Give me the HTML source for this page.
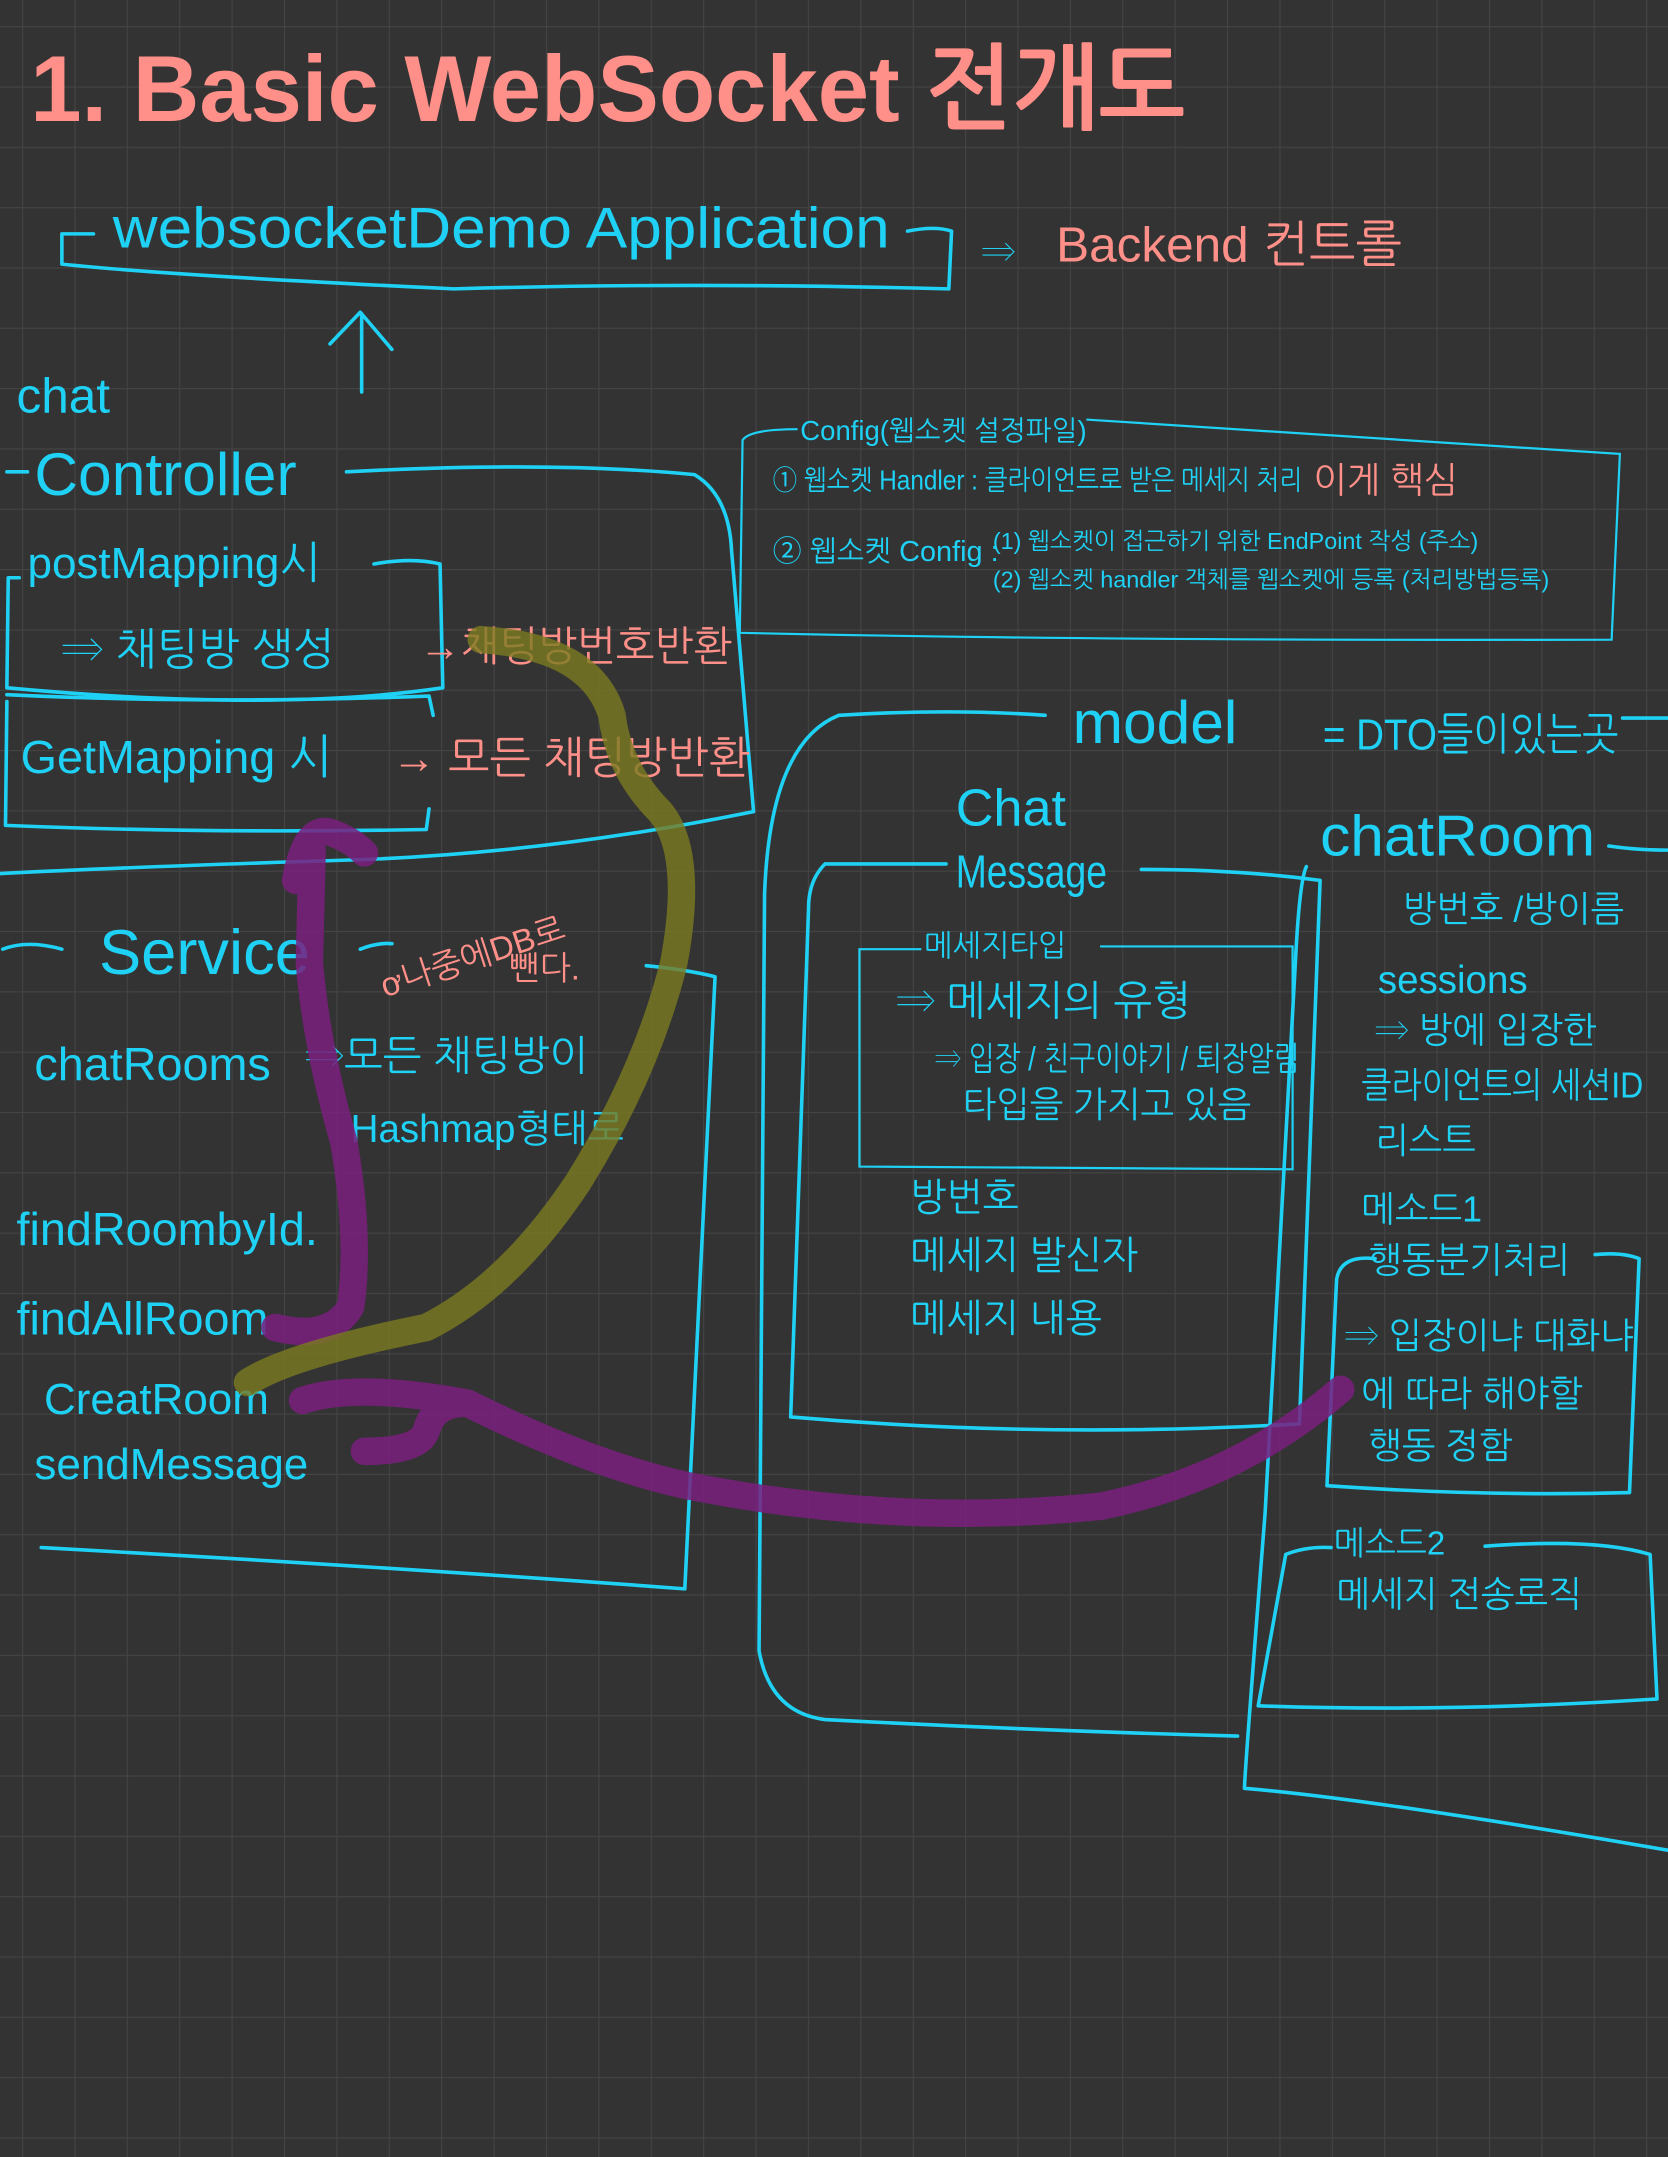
<!DOCTYPE html>
<html><head><meta charset="utf-8"><style>
html,body{margin:0;padding:0;background:#333333;}
svg{display:block}
text{font-family:"Liberation Sans","NanumGothic","Noto Sans CJK KR",sans-serif;}
.c{fill:#1fd2f5}.p{fill:#ff9089}
.l{fill:none;stroke:#1fd2f5;stroke-width:2.6;stroke-linecap:round;stroke-linejoin:round}
.t{fill:none;stroke:#1fd2f5;stroke-width:1.6}
</style></head><body>
<svg width="1668" height="2157" viewBox="0 0 1213 1568" preserveAspectRatio="none" xmlns="http://www.w3.org/2000/svg">
<defs>
<pattern id="g" x="16" y="19" width="38.1" height="43.85" patternUnits="userSpaceOnUse">
<path d="M0 0V43.85M0 0H38.1" stroke="#444444" stroke-width="1.6" fill="none"/>
</pattern>
</defs>
<rect width="1213" height="1568" fill="#333333"/>
<rect width="1213" height="1568" fill="url(#g)"/>

<!-- title -->
<text x="22" y="88" class="p" font-size="68" font-weight="bold" textLength="840" lengthAdjust="spacingAndGlyphs">1. Basic WebSocket 전개도</text>

<!-- app -->
<path class="l" d="M68 170H45V192Q120 200 330 210Q500 205 690 210L692 168Q680 164 660 168"/>
<text x="82" y="180" class="c" font-size="42" textLength="565" lengthAdjust="spacingAndGlyphs">websocketDemo Application</text>
<text x="714" y="192" class="c" font-size="26">⇒</text>
<text x="768" y="190" class="p" font-size="36">Backend 컨트롤</text>
<path class="l" d="M263 285V228M240 250L262 227L285 254"/>

<!-- controller -->
<text x="12" y="300" class="c" font-size="36">chat</text>
<text x="25" y="360" class="c" font-size="44">Controller</text>
<path class="l" d="M5 343H20M252 343Q400 335 505 345Q530 360 532 400L548 590Q400 620 260 625Q100 630 0 635"/>
<text x="20" y="420" class="c" font-size="32">postMapping시</text>
<path class="l" d="M272 410Q300 405 320 410L322 500Q200 518 5 500L6 420H14"/>
<text x="45" y="483" class="c" font-size="32">⇒ 채팅방 생성</text>
<text x="305" y="480" class="p" font-size="30">→채팅방번호반환</text>
<path class="l" d="M5 505Q150 512 312 506L315 520"/>
<text x="15" y="562" class="c" font-size="34">GetMapping 시</text>
<path class="l" d="M5 510L4 600Q150 606 310 603L312 588"/>
<text x="285" y="562" class="p" font-size="32">→ 모든 채팅방반환</text>

<!-- config -->
<path class="t" d="M580 312Q545 312 540 320L538 460Q800 466 1172 465L1178 330Q1000 318 790 305"/>
<text x="582" y="320" class="c" font-size="20">Config(웹소켓 설정파일)</text>
<text x="562" y="356" class="c" font-size="20" textLength="385" lengthAdjust="spacingAndGlyphs">① 웹소켓 Handler : 클라이언트로 받은 메세지 처리</text>
<text x="955" y="358" class="p" font-size="26">이게 핵심</text>
<text x="562" y="408" class="c" font-size="21">② 웹소켓 Config :</text>
<text x="722" y="399" class="c" font-size="17">(1) 웹소켓이 접근하기 위한 EndPoint 작성 (주소)</text>
<text x="722" y="427" class="c" font-size="17">(2) 웹소켓 handler 객체를 웹소켓에 등록 (처리방법등록)</text>

<!-- model -->
<path class="l" d="M760 520Q690 515 610 520Q560 540 556 650L552 1200Q560 1245 600 1250Q750 1258 900 1262"/>
<text x="780" y="540" class="c" font-size="44">model</text>
<text x="962" y="545" class="c" font-size="32" textLength="215" lengthAdjust="spacingAndGlyphs">= DTO들이있는곳</text>
<path class="l" d="M1180 522H1213"/>

<!-- chat message -->
<text x="695" y="600" class="c" font-size="38">Chat</text>
<text x="695" y="645" class="c" font-size="34" textLength="110" lengthAdjust="spacingAndGlyphs">Message</text>
<path class="l" d="M688 628H600Q588 640 588 660L575 1030Q760 1046 945 1035L960 640Q900 632 830 632"/>
<path class="t" d="M670 690H625V848L940 850V688H800"/>
<text x="672" y="695" class="c" font-size="22">메세지타입</text>
<text x="652" y="738" class="c" font-size="30">⇒ 메세지의 유형</text>
<text x="680" y="778" class="c" font-size="24" textLength="265" lengthAdjust="spacingAndGlyphs">⇒ 입장 / 친구이야기 / 퇴장알림</text>
<text x="700" y="812" class="c" font-size="26">타입을 가지고 있음</text>
<text x="662" y="880" class="c" font-size="28">방번호</text>
<text x="662" y="922" class="c" font-size="28">메세지 발신자</text>
<text x="662" y="968" class="c" font-size="28">메세지 내용</text>

<!-- chatroom -->
<text x="960" y="622" class="c" font-size="42" textLength="200" lengthAdjust="spacingAndGlyphs">chatRoom</text>
<path class="l" d="M950 630Q945 640 942 700L920 1100Q905 1290 905 1300Q1000 1308 1213 1345M1170 615Q1190 618 1213 618"/>
<text x="1020" y="670" class="c" font-size="26">방번호 /방이름</text>
<text x="1002" y="722" class="c" font-size="28">sessions</text>
<text x="1000" y="758" class="c" font-size="26">⇒ 방에 입장한</text>
<text x="990" y="798" class="c" font-size="26" textLength="205" lengthAdjust="spacingAndGlyphs">클라이언트의 세션ID</text>
<text x="1000" y="838" class="c" font-size="26">리스트</text>
<text x="990" y="888" class="c" font-size="26">메소드1</text>
<text x="995" y="925" class="c" font-size="26">행동분기처리</text>
<path class="l" d="M1000 915Q975 912 972 930L965 1080Q1080 1088 1185 1085L1192 915Q1180 910 1160 912"/>
<text x="978" y="980" class="c" font-size="26" textLength="210" lengthAdjust="spacingAndGlyphs">⇒ 입장이냐 대화냐</text>
<text x="990" y="1022" class="c" font-size="26">에 따라 해야할</text>
<text x="995" y="1060" class="c" font-size="26">행동 정함</text>
<text x="970" y="1130" class="c" font-size="24">메소드2</text>
<text x="972" y="1168" class="c" font-size="26">메세지 전송로직</text>
<path class="l" d="M1080 1124Q1160 1118 1200 1130L1205 1235Q1050 1245 915 1240L935 1130Q950 1124 968 1125"/>

<!-- service -->
<path class="l" d="M2 690Q20 683 45 690M262 690Q275 685 285 686M470 702Q500 705 520 710L498 1155Q300 1140 30 1125"/>
<text x="72" y="708" class="c" font-size="46">Service</text>
<text x="280" y="725" class="p" font-size="24" transform="rotate(-18 280 725)">ơ나중에DB로</text>
<text x="370" y="712" class="p" font-size="24">뺀다.</text>
<text x="25" y="785" class="c" font-size="34">chatRooms</text>
<text x="222" y="778" class="c" font-size="30">⇒모든 채팅방이</text>
<text x="255" y="830" class="c" font-size="28">Hashmap형태로</text>
<text x="12" y="905" class="c" font-size="34">findRoombyId.</text>
<text x="12" y="970" class="c" font-size="34">findAllRoom</text>
<text x="32" y="1028" class="c" font-size="32">CreatRoom</text>
<text x="25" y="1075" class="c" font-size="32">sendMessage</text>

<!-- highlighter strokes -->
<g fill="none" stroke-linecap="round" stroke-linejoin="round" stroke-width="20">
<path stroke="#7a1f7e" stroke-opacity="0.85" d="M200 965Q240 975 255 950Q262 900 250 830Q230 760 225 700L227 618M215 640Q222 600 240 605Q255 610 265 620"/>
<path stroke="#7a7a20" stroke-opacity="0.8" d="M180 1005Q210 985 310 965Q370 935 420 860Q470 780 490 700Q505 620 480 590Q450 560 445 520Q430 470 350 465"/>
<path stroke="#7a1f7e" stroke-opacity="0.85" d="M220 1018Q260 1005 340 1020Q430 1065 500 1080Q650 1110 800 1095Q900 1075 975 1010M265 1055Q305 1055 310 1040Q315 1020 340 1020"/>
</g>
</svg>
</body></html>
